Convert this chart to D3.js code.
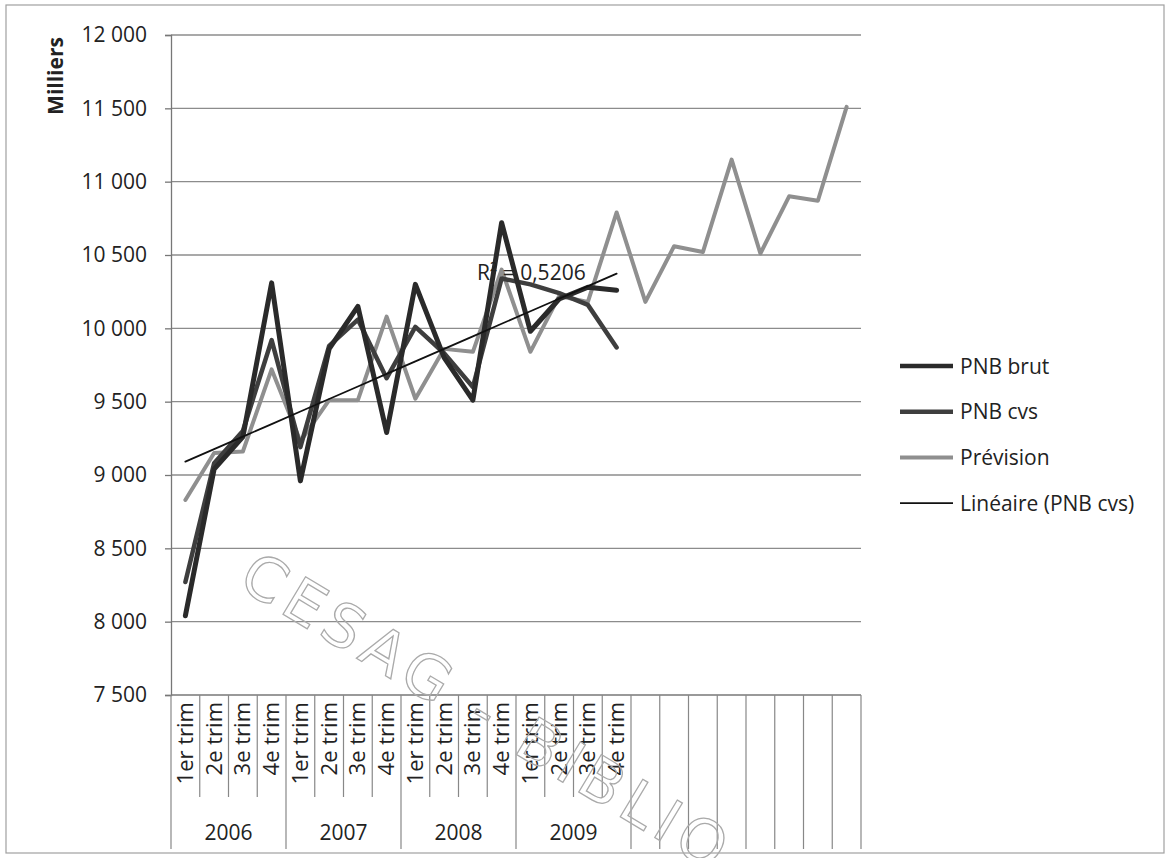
<!DOCTYPE html>
<html>
<head>
<meta charset="utf-8">
<script src="https://cdn.jsdelivr.net/npm/d3@7"></script>
<style>
  html, body { margin: 0; padding: 0; background: #fff; }
  svg { display: block; }
  text { font-family: "Open Sans", "Noto Sans", sans-serif; fill: #222; }
</style>
</head>
<body>
<svg id="chart" width="1169" height="858"></svg>
<script>
// Quarterly GNP (thousands), raw, seasonally adjusted, and forecast
const quarters = ["1er trim", "2e trim", "3e trim", "4e trim"];
const years = ["2006", "2007", "2008", "2009"];
const extraSlots = 8; // forecast horizon, no category labels

const pnbBrut = [8040, 9040, 9260, 10310, 8960, 9860, 10150, 9290,
                 10300, 9800, 9510, 10720, 9980, 10200, 10280, 10260];
const pnbCvs = [8270, 9080, 9300, 9920, 9190, 9880, 10060, 9660,
                10010, 9830, 9600, 10340, 10300, 10240, 10160, 9870];
const prevision = [8830, 9150, 9160, 9720, 9230, 9510, 9510, 10080,
                   9520, 9860, 9840, 10400, 9840, 10220, 10180, 10790,
                   10180, 10560, 10520, 11150, 10510, 10900, 10870, 11510];
const yTicks = [7500, 8000, 8500, 9000, 9500, 10000, 10500, 11000, 11500, 12000];
const r2Label = "R² = 0,5206";

const legendItems = [
  { name: "PNB brut", key: "brut" },
  { name: "PNB cvs", key: "cvs" },
  { name: "Prévision", key: "prev" },
  { name: "Linéaire (PNB cvs)", key: "trend" }
];

const styles = {
  brut:  { color: "#2a2a2a", width: 5 },
  cvs:   { color: "#3e3e3e", width: 4.5 },
  prev:  { color: "#8f8f8f", width: 4 },
  trend: { color: "#111111", width: 1.8 }
};

const svg = d3.select("#chart");

// category slots: 16 labelled quarters followed by empty forecast slots
const nSlots = years.length * quarters.length + extraSlots;
const x = d3.scaleBand().domain(d3.range(nSlots)).range([171, 861]);
const y = d3.scaleLinear().domain([7500, 12000]).range([695, 35]);
const cx = i => x(i) + x.bandwidth() / 2;

// outer frame
svg.append("rect")
  .attr("x", 6).attr("y", 5).attr("width", 1158).attr("height", 848)
  .attr("fill", "none").attr("stroke", "#a0a0a0").attr("stroke-width", 1.2);

// horizontal gridlines
svg.append("g").selectAll("line").data(yTicks.slice(1)).join("line")
  .attr("x1", 171).attr("x2", 861)
  .attr("y1", d => y(d)).attr("y2", d => y(d))
  .attr("stroke", "#8c8c8c").attr("stroke-width", 1.3);

// y axis
const fmt = v => d3.format(",")(v).replace(",", " ");
const yAxis = svg.append("g")
  .attr("transform", "translate(171,0)")
  .call(d3.axisLeft(y).tickValues(yTicks).tickFormat(fmt).tickSize(6).tickPadding(18));
yAxis.select(".domain").attr("stroke", "#777").attr("stroke-width", 1.3);
yAxis.selectAll(".tick line").attr("stroke", "#777").attr("stroke-width", 1.3);
yAxis.selectAll(".tick text")
  .style("font-family", "'Open Sans', sans-serif")
  .style("font-size", "21px").attr("fill", "#222");

svg.append("text")
  .attr("transform", "translate(63,76) rotate(-90)")
  .attr("text-anchor", "middle")
  .style("font-size", "21px").style("font-weight", "bold")
  .text("Milliers");

// x axis: baseline, slot separators, multi-level labels
const axisG = svg.append("g");
axisG.append("line")
  .attr("x1", 171).attr("x2", 861).attr("y1", 695).attr("y2", 695)
  .attr("stroke", "#777").attr("stroke-width", 1.3);

const nLabelled = years.length * quarters.length;
const boundaries = d3.range(nSlots + 1);
axisG.selectAll("line.sep").data(boundaries).join("line")
  .attr("class", "sep")
  .attr("x1", d => d < nSlots ? x(d) : x.range()[1])
  .attr("x2", d => d < nSlots ? x(d) : x.range()[1])
  .attr("y1", 695)
  .attr("y2", d => (d % quarters.length === 0 || d >= nLabelled) ? 849 : 797)
  .attr("stroke", "#888").attr("stroke-width", 1.2);

const quarterCats = years.flatMap((yr, yi) => quarters.map((q, qi) => ({ q, i: yi * quarters.length + qi })));
axisG.selectAll("text.q").data(quarterCats).join("text")
  .attr("class", "q")
  .attr("transform", d => `translate(${cx(d.i) + 7.5},702) rotate(-90)`)
  .attr("text-anchor", "end")
  .style("font-size", "22px")
  .text(d => d.q);

axisG.selectAll("text.yr").data(years).join("text")
  .attr("class", "yr")
  .attr("x", (d, i) => (x(i * 4) + x(i * 4 + 3) + x.bandwidth()) / 2)
  .attr("y", 840)
  .attr("text-anchor", "middle")
  .style("font-size", "21px")
  .text(d => d);

// library watermark, outlined, under the series
svg.append("text")
  .attr("transform", "translate(236,586) rotate(31)")
  .style("font-size", "60px")
  .style("letter-spacing", "7px")
  .style("font-family", "'DejaVu Sans', sans-serif")
  .style("fill", "none")
  .style("stroke", "#aaaaaa").style("stroke-width", "1.3px")
  .text("CESAG - BIBLIO");

// series
const line = d3.line().x((d, i) => cx(i)).y(d => y(d));
const drawSeries = (data, st) => svg.append("path")
  .datum(data)
  .attr("d", line)
  .attr("fill", "none")
  .attr("stroke", st.color).attr("stroke-width", st.width)
  .attr("stroke-linejoin", "round").attr("stroke-linecap", "round");

drawSeries(prevision, styles.prev);
drawSeries(pnbCvs, styles.cvs);
drawSeries(pnbBrut, styles.brut);

// least-squares trend on the seasonally adjusted series
const idx = d3.range(pnbCvs.length);
const mx = d3.mean(idx), my = d3.mean(pnbCvs);
const slope = d3.sum(idx, i => (i - mx) * (pnbCvs[i] - my)) / d3.sum(idx, i => (i - mx) ** 2);
const intercept = my - slope * mx;
const trend = idx.map(i => intercept + slope * i);
drawSeries(trend, styles.trend);

svg.append("text")
  .attr("x", 477).attr("y", 280)
  .style("font-size", "21px").attr("fill", "#333")
  .text(r2Label);

// legend
const leg = svg.append("g").selectAll("g").data(legendItems).join("g")
  .attr("transform", (d, i) => `translate(900,${366 + i * 45.7})`);
leg.append("line")
  .attr("x1", 0).attr("x2", 53).attr("y1", 0).attr("y2", 0)
  .attr("stroke", d => styles[d.key].color)
  .attr("stroke-width", d => Math.min(styles[d.key].width, 4.5));
leg.append("text")
  .attr("x", 60).attr("y", 0).attr("dy", "0.36em")
  .style("font-size", "21px")
  .text(d => d.name);
</script>
</body>
</html>
